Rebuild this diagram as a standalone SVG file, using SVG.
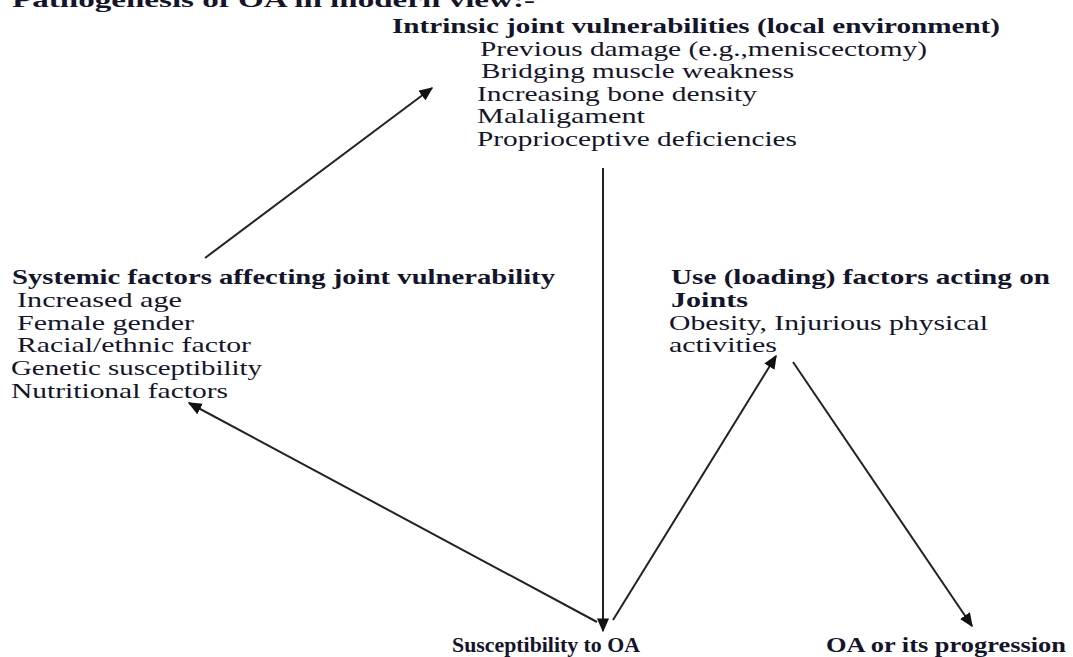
<svg xmlns="http://www.w3.org/2000/svg" width="1073" height="657" viewBox="0 0 1073 657">
<defs>
<style>
text{font-family:'Liberation Serif','Times New Roman','DejaVu Serif',serif;font-size:21px;fill:#14142a}
.b{font-weight:bold}
.c{stroke:#222;stroke-width:2;fill:none}
</style>
<marker id="ah" viewBox="0 0 10 10" refX="9" refY="5" markerWidth="14" markerHeight="12" markerUnits="userSpaceOnUse" orient="auto" preserveAspectRatio="none">
<path d="M0,0 L10,5 L0,10 z" fill="#111"/>
</marker>
</defs>
<rect width="1073" height="657" fill="#fff"/>
<g id="title"><text class="b" x="12" y="7" textLength="523" lengthAdjust="spacingAndGlyphs">Pathogenesis of OA in modern view:-</text></g>
<g id="intrinsic">
<text class="b" x="392" y="33" textLength="608" lengthAdjust="spacingAndGlyphs">Intrinsic joint vulnerabilities (local environment)</text>
<text x="480" y="56" textLength="447" lengthAdjust="spacingAndGlyphs">Previous damage (e.g.,meniscectomy)</text>
<text x="481" y="78" textLength="313" lengthAdjust="spacingAndGlyphs">Bridging muscle weakness</text>
<text x="477" y="101" textLength="280" lengthAdjust="spacingAndGlyphs">Increasing bone density</text>
<text x="477" y="123" textLength="168" lengthAdjust="spacingAndGlyphs">Malaligament</text>
<text x="477" y="146" textLength="320" lengthAdjust="spacingAndGlyphs">Proprioceptive deficiencies</text>
</g>
<g id="systemic">
<text class="b" x="12" y="284" textLength="543" lengthAdjust="spacingAndGlyphs">Systemic factors affecting joint vulnerability</text>
<text x="17" y="307" textLength="165" lengthAdjust="spacingAndGlyphs">Increased age</text>
<text x="17" y="330" textLength="177" lengthAdjust="spacingAndGlyphs">Female gender</text>
<text x="17" y="352" textLength="234" lengthAdjust="spacingAndGlyphs">Racial/ethnic factor</text>
<text x="11" y="375" textLength="251" lengthAdjust="spacingAndGlyphs">Genetic susceptibility</text>
<text x="11" y="398" textLength="217" lengthAdjust="spacingAndGlyphs">Nutritional factors</text>
</g>
<g id="use">
<text class="b" x="671" y="284" textLength="379" lengthAdjust="spacingAndGlyphs">Use (loading) factors acting on</text>
<text class="b" x="671" y="307" textLength="77" lengthAdjust="spacingAndGlyphs">Joints</text>
<text x="669" y="330" textLength="319" lengthAdjust="spacingAndGlyphs">Obesity, Injurious physical</text>
<text x="669" y="352" textLength="108" lengthAdjust="spacingAndGlyphs">activities</text>
</g>
<g id="susceptibility"><text class="b" x="452" y="652" textLength="188" lengthAdjust="spacingAndGlyphs">Susceptibility to OA</text></g>
<g id="progression"><text class="b" x="826" y="652" textLength="240" lengthAdjust="spacingAndGlyphs">OA or its progression</text></g>
<g id="connectors">
<line class="c" x1="205" y1="258" x2="432" y2="88" marker-end="url(#ah)"/>
<line class="c" x1="603" y1="168" x2="603" y2="631" marker-end="url(#ah)"/>
<line class="c" x1="597" y1="622" x2="189" y2="403" marker-end="url(#ah)"/>
<line class="c" x1="613" y1="620" x2="776" y2="356" marker-end="url(#ah)"/>
<line class="c" x1="793" y1="362" x2="972" y2="626" marker-end="url(#ah)"/>
</g>
</svg>
